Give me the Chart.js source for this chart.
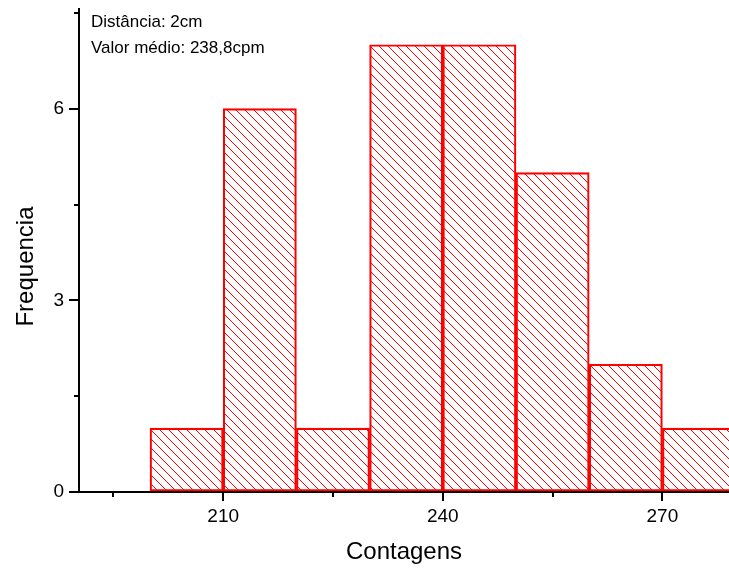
<!DOCTYPE html>
<html>
<head>
<meta charset="utf-8">
<script src="https://cdn.jsdelivr.net/npm/chart.js@4.4.0/dist/chart.umd.min.js"></script>
<style>
  html, body { margin: 0; padding: 0; background: #fff; }
  #wrap { width: 729px; height: 571px; }
</style>
</head>
<body>
<div id="wrap"><canvas id="chart"></canvas></div>
<script>
// histogram bins (width 10) and counts
const binCenters = [205, 215, 225, 235, 245, 255, 265, 275];
const counts = [1, 6, 1, 7, 7, 5, 2, 1];
const xTicks = [210, 240, 270];
const xMinorTicks = [195, 225, 255];
const yTicks = [0, 3, 6];
const yMinorTicks = [1.5, 4.5, 7.5];
const notes = ['Distância: 2cm', 'Valor médio: 238,8cpm'];
const yTitle = 'Frequencia';

const FONT = '"Liberation Sans", Arial, sans-serif';
const RED = '#ff0000';

function hatch(color) {
  const s = 9;
  const c = document.createElement('canvas');
  c.width = s;
  c.height = s;
  const g = c.getContext('2d');
  g.strokeStyle = color;
  g.lineWidth = 1;
  g.beginPath();
  for (let k = -1; k <= 1; k++) {
    g.moveTo(k * s, 0);
    g.lineTo(k * s + s, s);
  }
  g.stroke();
  return g.createPattern(c, 'repeat');
}

const minorTicks = {
  id: 'minorTicks',
  afterDraw(chart) {
    const ctx = chart.ctx;
    const x = chart.scales.x;
    const y = chart.scales.y;
    ctx.save();
    ctx.strokeStyle = '#000';
    ctx.lineWidth = 2;
    ctx.beginPath();
    xMinorTicks.forEach(v => {
      const px = Math.round(x.getPixelForValue(v));
      ctx.moveTo(px, x.top);
      ctx.lineTo(px, x.top + 5);
    });
    yMinorTicks.forEach(v => {
      const py = Math.round(y.getPixelForValue(v));
      ctx.moveTo(y.right, py);
      ctx.lineTo(y.right - 5, py);
    });
    ctx.stroke();
    ctx.restore();
  }
};

// annotation text + y axis title (sits a bit below the axis centre, as in the original)
const textPlugin = {
  id: 'texts',
  afterDraw(chart) {
    const ctx = chart.ctx;
    const area = chart.chartArea;
    ctx.save();
    ctx.fillStyle = '#000';
    ctx.font = '17px ' + FONT;
    ctx.textBaseline = 'alphabetic';
    notes.forEach((t, i) => ctx.fillText(t, area.left + 12, area.top + 18 + i * 26));

    ctx.font = '24px ' + FONT;
    ctx.textAlign = 'center';
    ctx.textBaseline = 'middle';
    ctx.translate(26, (area.top + area.bottom) / 2 + 16);
    ctx.rotate(-Math.PI / 2);
    ctx.fillText(yTitle, 0, 0);
    ctx.restore();
  }
};

new Chart(document.getElementById('chart'), {
  type: 'bar',
  data: {
    datasets: [{
      data: binCenters.map((c, i) => ({ x: c, y: counts[i] })),
      backgroundColor: hatch(RED),
      borderColor: RED,
      borderWidth: 1.5,
      borderSkipped: false,
      barPercentage: 1,
      categoryPercentage: 1,
    }],
  },
  options: {
    responsive: true,
    maintainAspectRatio: false,
    animation: false,
    layout: { padding: { top: 9, right: 0, left: 0, bottom: 0 } },
    plugins: {
      legend: { display: false },
      tooltip: { enabled: false },
    },
    scales: {
      x: {
        type: 'linear',
        min: 190.3,
        max: 279.1,
        offset: false,
        afterBuildTicks: s => { s.ticks = xTicks.map(v => ({ value: v })); },
        afterFit: s => { s.height = 79; s.paddingLeft = 0; s.paddingRight = 0; },
        border: { display: true, color: '#000', width: 2 },
        grid: { offset: false, drawOnChartArea: false, drawTicks: true, tickLength: 9, color: '#000', lineWidth: 2 },
        ticks: { color: '#000', font: { family: FONT, size: 19 }, padding: 4, maxRotation: 0 },
        title: { display: true, text: 'Contagens', color: '#000', font: { family: FONT, size: 24 }, padding: { top: 4, bottom: 4 } },
      },
      y: {
        min: 0,
        max: 7.56,
        afterBuildTicks: s => { s.ticks = yTicks.map(v => ({ value: v })); },
        afterFit: s => { s.width = 79; s.paddingTop = 0; s.paddingBottom = 0; },
        border: { display: true, color: '#000', width: 2 },
        grid: { drawOnChartArea: false, drawTicks: true, tickLength: 10, color: '#000', lineWidth: 2 },
        ticks: { color: '#000', font: { family: FONT, size: 19 }, padding: 5 },
        title: { display: false },
      },
    },
  },
  plugins: [minorTicks, textPlugin],
});
</script>
</body>
</html>
